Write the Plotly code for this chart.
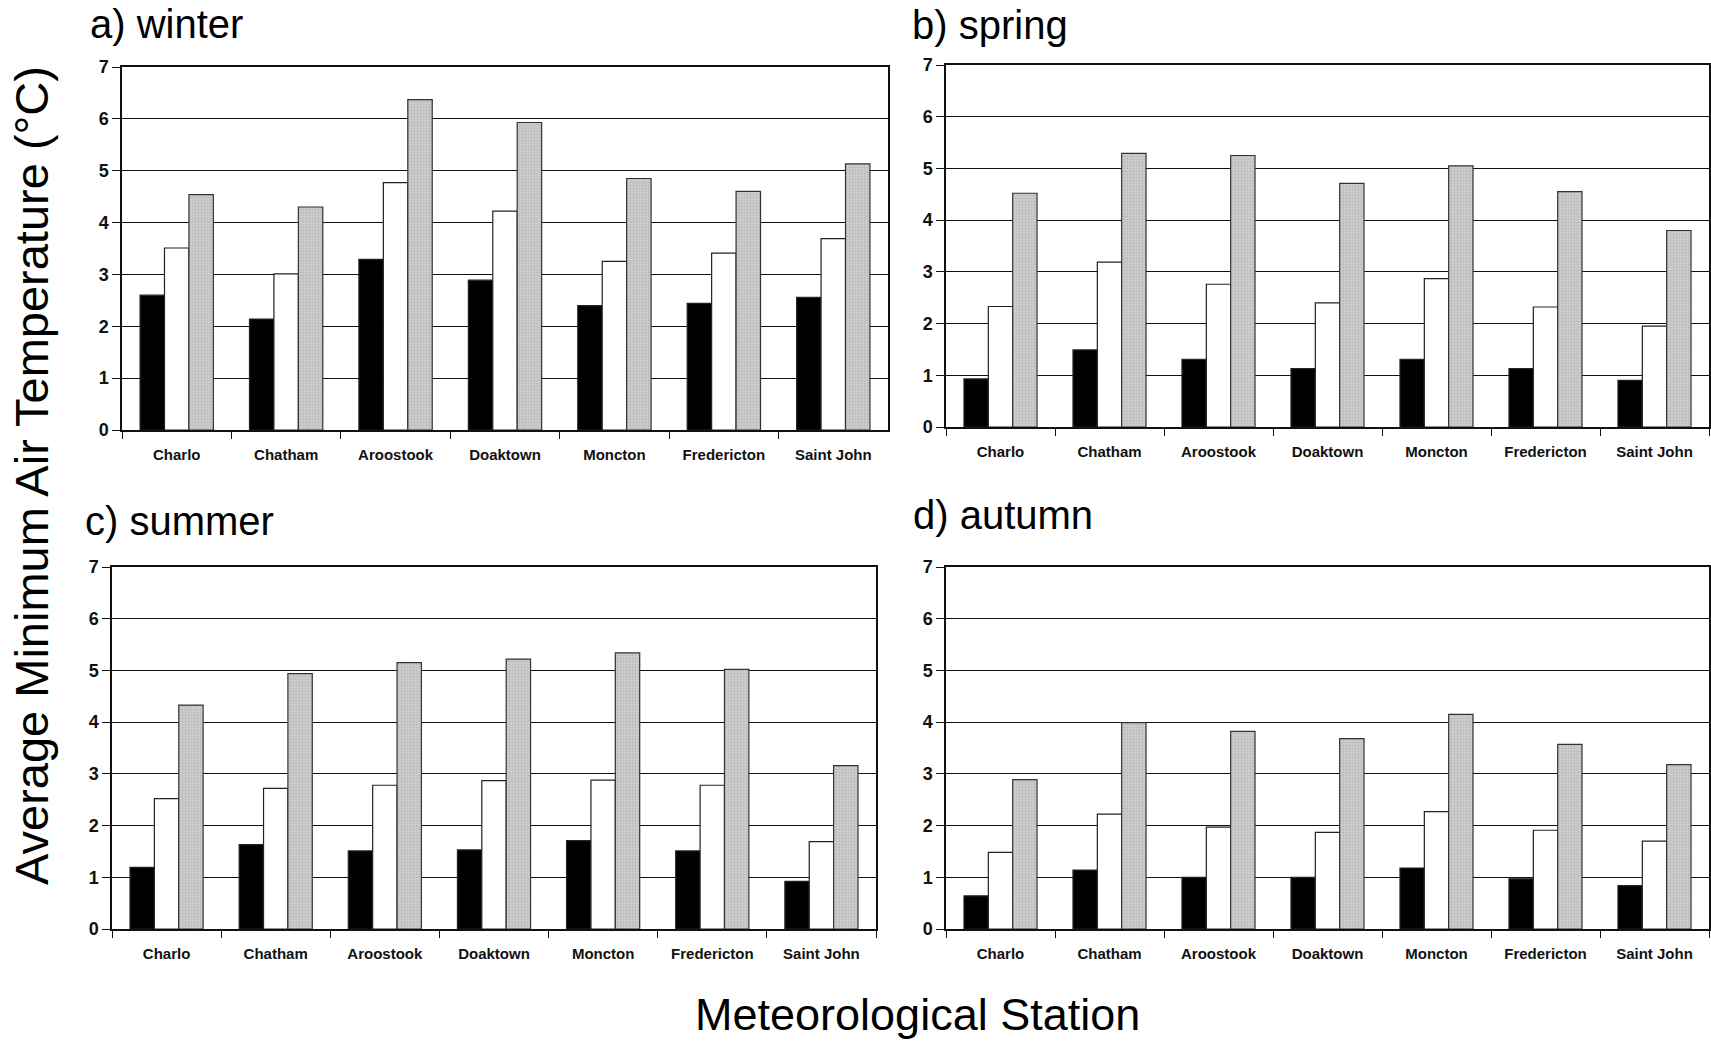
import plotly.graph_objects as go

stations = ["Charlo", "Chatham", "Aroostook", "Doaktown", "Moncton", "Fredericton", "Saint John"]

winter_black = [2.60, 2.14, 3.29, 2.89, 2.40, 2.44, 2.56]
winter_white = [3.51, 3.01, 4.77, 4.22, 3.25, 3.41, 3.69]
winter_gray = [4.54, 4.30, 6.37, 5.93, 4.85, 4.60, 5.13]

spring_black = [0.93, 1.49, 1.31, 1.13, 1.31, 1.13, 0.90]
spring_white = [2.33, 3.19, 2.76, 2.40, 2.87, 2.32, 1.95]
spring_gray = [4.52, 5.29, 5.25, 4.71, 5.05, 4.55, 3.80]

summer_black = [1.19, 1.63, 1.51, 1.53, 1.71, 1.51, 0.92]
summer_white = [2.52, 2.72, 2.78, 2.87, 2.88, 2.78, 1.69]
summer_gray = [4.33, 4.94, 5.15, 5.22, 5.34, 5.02, 3.16]

autumn_black = [0.64, 1.14, 1.00, 1.00, 1.18, 0.97, 0.84]
autumn_white = [1.48, 2.22, 1.97, 1.87, 2.27, 1.91, 1.70]
autumn_gray = [2.89, 3.99, 3.82, 3.68, 4.15, 3.57, 3.18]

panel_titles = ["a) winter", "b) spring", "c) summer", "d) autumn"]
y_ticks = [0, 1, 2, 3, 4, 5, 6, 7]

W, H = 1711, 1042

panels = [
    (winter_black, winter_white, winter_gray),
    (spring_black, spring_white, spring_gray),
    (summer_black, summer_white, summer_gray),
    (autumn_black, autumn_white, autumn_gray),
]

# plot areas in pixels: (left, right, top, bottom)
areas = [
    (122, 888, 67, 430),
    (946, 1709, 65, 427),
    (112, 876, 567, 929),
    (946, 1709, 567, 929),
]

fig = go.Figure()
layout = {}
for i, ((b, w, g), (l, r, t, btm)) in enumerate(zip(panels, areas)):
    n = "" if i == 0 else str(i + 1)
    xa, ya = "x" + n, "y" + n
    fig.add_trace(go.Bar(x=stations, y=b, xaxis=xa, yaxis=ya, name="Series 1",
                         marker=dict(color="#000000", line=dict(color="#222222", width=1.2))))
    fig.add_trace(go.Bar(x=stations, y=w, xaxis=xa, yaxis=ya, name="Series 2",
                         marker=dict(color="#ffffff", line=dict(color="#222222", width=1.2))))
    fig.add_trace(go.Bar(x=stations, y=g, xaxis=xa, yaxis=ya, name="Series 3",
                         marker=dict(color="#c6c6c6", line=dict(color="#333333", width=1.2),
                                     pattern=dict(shape=".", size=3, solidity=0.4,
                                                  fgcolor="#a4a4a4", bgcolor="#cdcdcd"))))
    layout["xaxis" + n] = dict(
        domain=[l / W, r / W], anchor=ya, type="category", automargin=False,
        showline=True, mirror=True, linecolor="#111111", linewidth=1.5,
        ticks="outside", tickson="boundaries", ticklen=7, tickcolor="#111111",
        tickfont=dict(family="Liberation Sans, Arial", size=15, color="#111111", weight="bold"),
        ticklabelstandoff=10, showgrid=False, zeroline=False,
    )
    layout["yaxis" + n] = dict(
        domain=[1 - btm / H, 1 - t / H], anchor=xa, range=[0, 7], automargin=False,
        tickvals=y_ticks, showline=True, mirror=True, linecolor="#111111", linewidth=1.5,
        ticks="outside", ticklen=8, tickcolor="#111111",
        tickfont=dict(family="Liberation Sans, Arial", size=18, color="#111111", weight="bold"),
        showgrid=True, gridcolor="#111111", gridwidth=1.2, zeroline=False,
    )

title_pos = [(88, 24), (910, 25), (83, 521), (911, 515)]
annotations = []
for txt, (x, y) in zip(panel_titles, title_pos):
    annotations.append(dict(text=txt, x=x / W, y=1 - y / H, xref="paper", yref="paper",
                            xanchor="left", yanchor="middle", showarrow=False,
                            font=dict(family="Liberation Sans, Arial", size=40, color="#000000")))
annotations.append(dict(text="Meteorological Station", x=918 / W, y=1 - 1014 / H,
                        xref="paper", yref="paper", xanchor="center", yanchor="middle",
                        showarrow=False,
                        font=dict(family="Liberation Sans, Arial", size=45, color="#000000")))
annotations.append(dict(text="Average Minimum Air Temperature (°C)", x=31 / W, y=1 - 476 / H,
                        xref="paper", yref="paper", xanchor="center", yanchor="middle",
                        textangle=-90, showarrow=False,
                        font=dict(family="Liberation Sans, Arial", size=47, color="#000000")))

fig.update_layout(
    **layout,
    width=W, height=H,
    margin=dict(l=0, r=0, t=0, b=0, autoexpand=False),
    paper_bgcolor="#ffffff", plot_bgcolor="#ffffff",
    barmode="group", bargap=0.33, bargroupgap=0.0,
    showlegend=False,
    annotations=annotations,
)

fig.write_html("out.html", config={"displayModeBar": False},
               post_script="document.body.style.margin='0';")
